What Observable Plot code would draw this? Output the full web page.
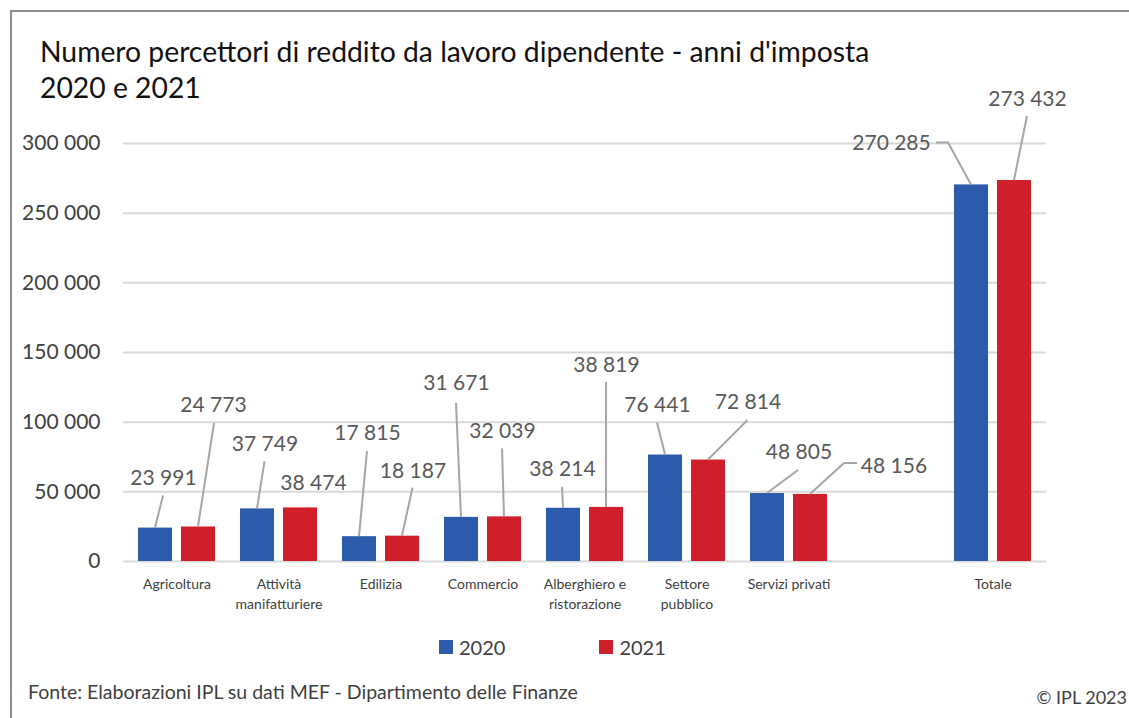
<!DOCTYPE html>
<html>
<head>
<meta charset="utf-8">
<script src="https://cdn.jsdelivr.net/npm/d3@7"></script>
<script src="https://cdn.jsdelivr.net/npm/@observablehq/plot@0.6"></script>
<style>
  html, body { margin: 0; padding: 0; background: #fff; }
  body { width: 1129px; height: 718px; position: relative; overflow: hidden; font-family: Lato, "Open Sans", sans-serif; }
  #frame { position: absolute; left: 10px; top: 10px; width: 1200px; height: 800px; border-left: 2px solid #8e8e8e; border-top: 2px solid #8e8e8e; }
  #chart { position: absolute; left: 0; top: 80px; }
  #title { position: absolute; left: 40px; top: 33px; font-size: 28.3px; line-height: 36px; color: #111; white-space: nowrap; }
  #legend { position: absolute; left: 439px; top: 634px; display: flex; gap: 94px; font-size: 20px; color: #404040; }
  #legend .item { display: flex; align-items: center; gap: 6px; height: 26px; }
  #legend .sw { width: 14px; height: 14px; display: inline-block; }
  #source { position: absolute; left: 28px; top: 682px; font-size: 19.5px; line-height: 19.5px; color: #404040; white-space: nowrap; }
  #copy { position: absolute; right: 2px; top: 688px; font-size: 18px; line-height: 18px; color: #404040; white-space: nowrap; }
</style>
</head>
<body>
<div id="frame"></div>
<div id="chart"></div>
<div id="title">Numero percettori di reddito da lavoro dipendente - anni d'imposta<br>2020 e 2021</div>
<div id="legend"></div>
<div id="source">Fonte: Elaborazioni IPL su dati MEF - Dipartimento delle Finanze</div>
<div id="copy">© IPL 2023</div>
<script>
// ---- data ----
const categories = ["Agricoltura", "Attività\nmanifatturiere", "Edilizia", "Commercio",
  "Alberghiero e\nristorazione", "Settore\npubblico", "Servizi privati", "Totale"];
const years = ["2020", "2021"];
const values2020 = [23991, 37749, 17815, 31671, 38214, 76441, 48805, 270285];
const values2021 = [24773, 38474, 18187, 32039, 38819, 72814, 48156, 273432];
const yTicks = [0, 50000, 100000, 150000, 200000, 250000, 300000];
const colors = ["#2B5BAA", "#CF1F2A"];

// label placement, in px relative to the top centre of each bar: [dx, dy, leader points]
const labelPos2020 = [
  [8, -50, [[8, -32]]],
  [7.5, -65, [[7.5, -47]]],
  [8, -103, [[8, -85]]],
  [-5, -134, [[-5, -114]]],
  [-1, -39, [[-1, -21]]],
  [-8, -50, [[-8, -32]]],
  [31.5, -41, [[31, -23]]],
  [-80, -42, [[-23, -42], [-35, -42]]]
];
const labelPos2021 = [
  [15, -121.5, [[16, -103.5]]],
  [13, -25, []],
  [10.5, -65, [[10.5, -48]]],
  [-2, -86, [[-2, -68]]],
  [0, -142, [[0, -125]]],
  [39.5, -57.5, [[39.5, -39.5]]],
  [83.5, -28, [[34, -31], [47, -31]]],
  [13, -81, [[13, -64]]]
];

// ---- build ----
const fmt = v => d3.format(",")(v).replace(/,/g, " ");
const xDomain = [...categories.slice(0, -1), "", categories[categories.length - 1]];
const inset = 43;      // px removed from a category band so each bar is ~34px wide
const half = 21.5;     // px offset from band centre to each bar centre

const bars = categories.flatMap((c, i) => [
  {cat: c, year: years[0], value: values2020[i], pos: labelPos2020[i], off: -half},
  {cat: c, year: years[1], value: values2021[i], pos: labelPos2021[i], off: half}
]);

const leaders = (index, scales) => {
  const {x, y} = scales;
  const bw = typeof x.bandwidth === "function" ? x.bandwidth() : 77;
  const g = d3.create("svg:g")
    .attr("fill", "none").attr("stroke", "#a6a6a6").attr("stroke-width", 2);
  for (const b of bars) {
    const pts = b.pos[2];
    if (!pts.length) continue;
    const cx = x(b.cat) + bw / 2 + b.off;
    const cy = y(b.value);
    g.append("path").attr("d", d3.line()([[cx, cy], ...pts.map(([dx, dy]) => [cx + dx, cy + dy])]));
  }
  return g.node();
};

const chart = Plot.plot({
  width: 1129,
  height: 550,
  marginLeft: 123,
  marginRight: 83,
  marginTop: 63,
  marginBottom: 69,
  style: {fontFamily: "Lato, 'Open Sans', sans-serif", fontSize: "21px", color: "#404040", background: "transparent", overflow: "visible"},
  x: {domain: xDomain, paddingInner: 0.25, paddingOuter: 0.125, axis: null},
  y: {domain: [0, 300000], ticks: yTicks, tickFormat: fmt, tickSize: 0, tickPadding: 23, label: null},
  marks: [
    Plot.ruleY(yTicks, {stroke: "#d9d9d9", strokeWidth: 2}),
    Plot.barY(bars.filter(b => b.year === years[0]), {x: "cat", y: "value", fill: colors[0], insetRight: inset}),
    Plot.barY(bars.filter(b => b.year === years[1]), {x: "cat", y: "value", fill: colors[1], insetLeft: inset}),
    leaders,
    ...bars.map(b => Plot.text([b], {
      x: "cat", y: "value", text: d => fmt(d.value),
      dx: b.off + b.pos[0], dy: b.pos[1], fill: "#595959", fontSize: 21
    })),
    Plot.text(categories, {
      x: d => d, y: () => 0, text: d => d, lineAnchor: "top", dy: 13,
      fontSize: 14, lineHeight: 1.43, fill: "#404040"
    })
  ]
});
document.getElementById("chart").appendChild(chart);

const legend = d3.select("#legend");
years.forEach((yr, i) => {
  const item = legend.append("div").attr("class", "item");
  item.append("span").attr("class", "sw").style("background", colors[i]);
  item.append("span").text(yr);
});
</script>
</body>
</html>
